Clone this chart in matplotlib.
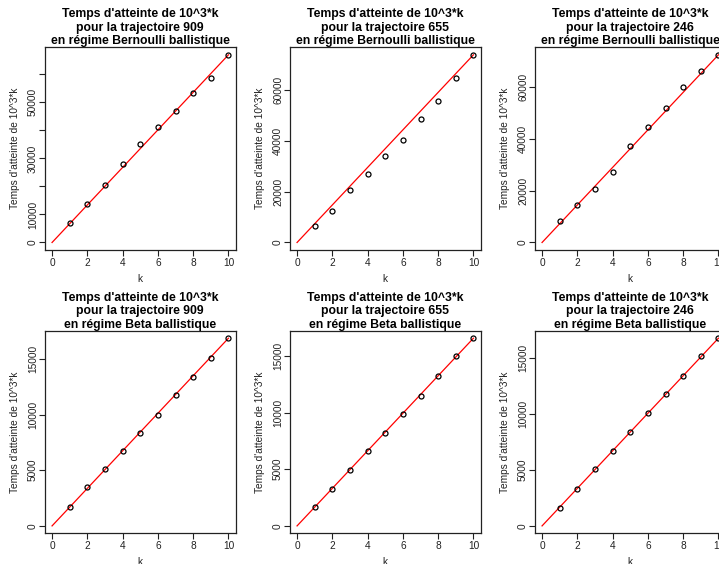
import numpy as np
import matplotlib
matplotlib.use("Agg")
import matplotlib.pyplot as plt

plt.rcParams['font.family'] = ['Liberation Sans', 'DejaVu Sans']

# donnees
k = np.arange(1, 11)

bern_909 = [7000, 13800, 20600, 28100, 35100, 41300, 47100, 53500, 58700, 67000]
bern_655 = [6600, 12300, 20500, 26900, 33900, 40300, 48700, 55800, 64700, 73900]
bern_246 = [8300, 14500, 20600, 27400, 37400, 44800, 52100, 60000, 66200, 72600]
beta_909 = [1710, 3450, 5130, 6690, 8310, 9990, 11730, 13410, 15090, 16860]
beta_655 = [1680, 3240, 4950, 6570, 8190, 9870, 11490, 13260, 15000, 16560]
beta_246 = [1640, 3320, 5080, 6690, 8370, 10100, 11830, 13440, 15180, 16790]

trajs = ["909", "655", "246"]
regimes = ["Bernoulli", "Beta"]
series = [[bern_909, bern_655, bern_246], [beta_909, beta_655, beta_246]]

# ticks (R laisse tomber les labels qui se chevauchent)
yticks = [[list(range(0, 70000, 10000)), [0, 20000, 40000, 60000], [0, 20000, 40000, 60000]],
          [[0, 5000, 10000, 15000]] * 3]
ylabs = [[["0", "10000", "", "30000", "", "50000", ""],
          ["0", "20000", "40000", "60000"], ["0", "20000", "40000", "60000"]],
         [["0", "5000", "10000", "15000"]] * 3]
xticks = [0, 2, 4, 6, 8, 10]

W, H = 719, 564
fig = plt.figure(figsize=(W / 100, H / 100), dpi=100)

lefts = [45, 290, 535]
tops = [47.3, 330.7]
bw, bh = 190.5, 202.7

for r in range(2):
    for c in range(3):
        ax = fig.add_axes([lefts[c] / W, 1 - (tops[r] + bh) / H, bw / W, bh / H])
        y = series[r][c]
        ymax = max(y)
        ax.plot([0, 10], [0, y[-1]], color='red', lw=0.9, zorder=2)
        ax.plot(k, y, 'o', mfc='none', mec='black', ms=3.6, mew=0.9, zorder=3)
        ax.set_xlim(-0.4, 10.4)
        ax.set_ylim(-0.04 * ymax, 1.04 * ymax)
        ax.set_xticks(xticks)
        ax.set_xticklabels([str(t) for t in xticks])
        ax.set_yticks(yticks[r][c])
        ax.set_yticklabels(ylabs[r][c], rotation=90, va='center')
        ax.tick_params(direction='out', length=4.5, width=0.8, labelsize=7.3,
                       color='#222222', labelcolor='#222222')
        ax.tick_params(axis='x', pad=1.2)
        ax.tick_params(axis='y', pad=0.5)
        for s in ax.spines.values():
            s.set_color('#222222')
            s.set_linewidth(0.9)
        ax.set_xlabel("k", fontsize=7.3, labelpad=4.2, color='#222222')
        ax.set_ylabel("Temps d'atteinte de 10^3*k", fontsize=7.3, labelpad=5.5, color='#222222')
        ax.set_title("Temps d'atteinte de 10^3*k\npour la trajectoire %s\nen régime %s ballistique"
                     % (trajs[c], regimes[r]),
                     fontsize=8.8, fontweight='bold', pad=-5.5, linespacing=1.17)

fig.savefig("out.png", dpi=100)
